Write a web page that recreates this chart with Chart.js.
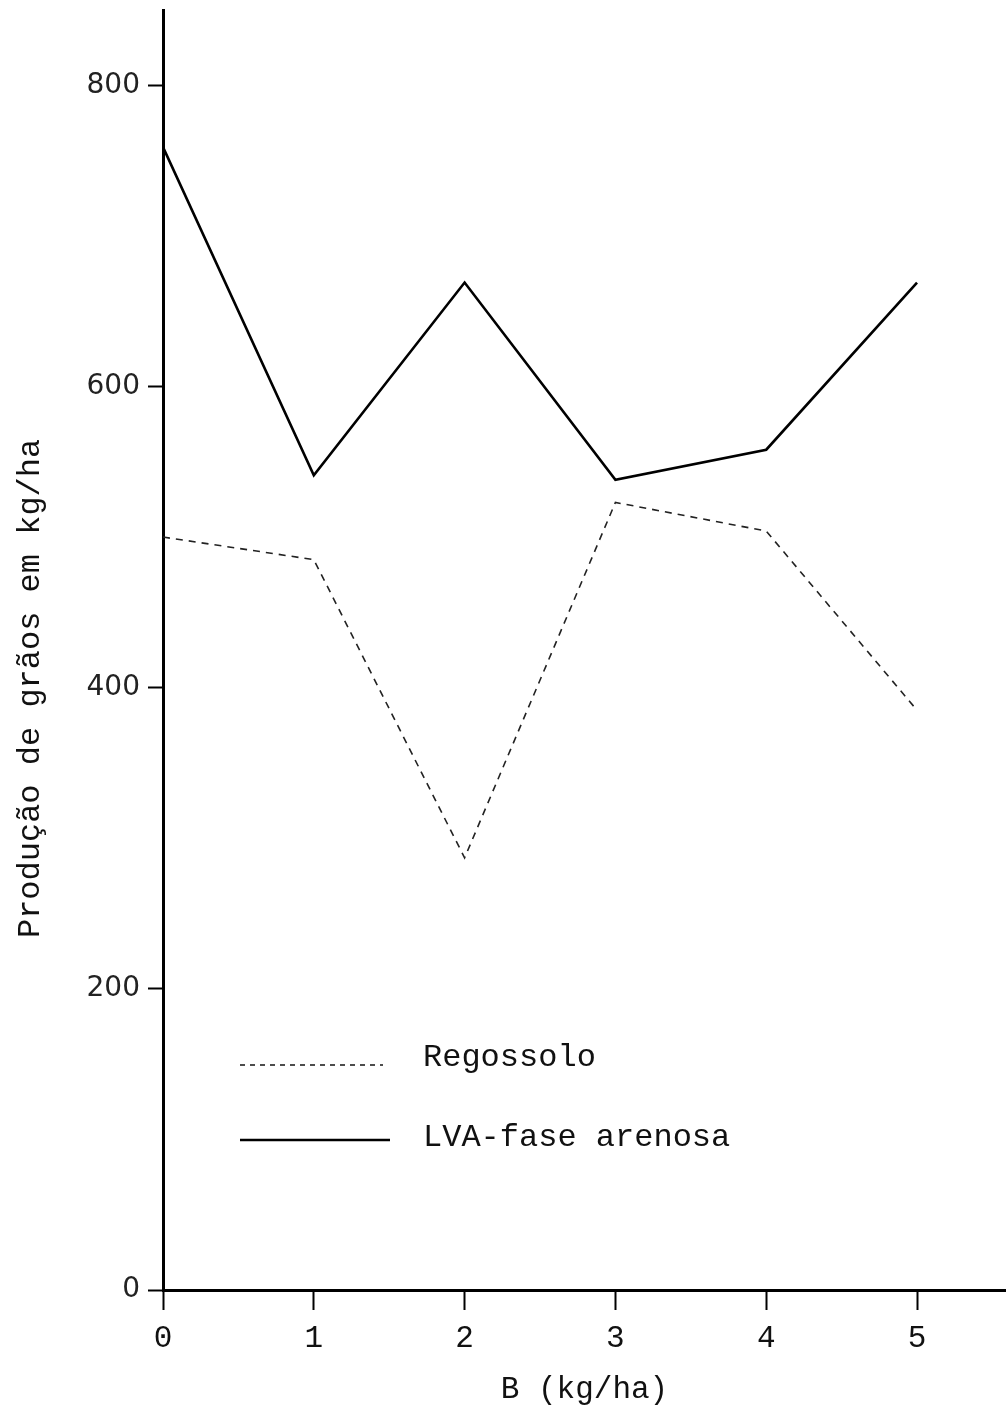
<!DOCTYPE html>
<html><head><meta charset="utf-8">
<script src="https://cdn.jsdelivr.net/npm/chart.js@4"></script>
<style>html,body{margin:0;padding:0;background:#fff}#wrap{width:1006px;height:1409px;position:relative}</style>
</head><body><div id="wrap"><canvas id="c" width="1006" height="1409"></canvas></div>
<script>
const doses = [0, 1, 2, 3, 4, 5];
const regossolo = [500, 485, 287, 523, 504, 385];
const lvaFaseArenosa = [759, 541, 669, 538, 558, 669];
const yTicks = [0, 200, 400, 600, 800];
const xTicks = [0, 1, 2, 3, 4, 5];
const seriesNames = ['Regossolo', 'LVA-fase arenosa'];
const xTitle = 'B (kg/ha)';
const yTitle = 'Produção de grãos em kg/ha';

const MONO = '"Liberation Mono", "DejaVu Sans Mono", monospace';

const legendPlugin = {
  id: 'inlineLegend',
  afterDraw(chart) {
    const ctx = chart.ctx;
    const rows = [
      { ds: 0, x0: 240, x1: 383, ly: 1065, ty: 1058 },
      { ds: 1, x0: 240, x1: 390, ly: 1140, ty: 1138 }
    ];
    ctx.save();
    rows.forEach(r => {
      const d = chart.data.datasets[r.ds];
      ctx.beginPath();
      ctx.strokeStyle = d.borderColor;
      ctx.lineWidth = d.borderWidth;
      ctx.setLineDash(r.ds === 0 ? [5, 5] : []);
      ctx.moveTo(r.x0, r.ly);
      ctx.lineTo(r.x1, r.ly);
      ctx.stroke();
      ctx.setLineDash([]);
      ctx.fillStyle = '#111';
      ctx.font = '32px ' + MONO;
      ctx.textBaseline = 'middle';
      ctx.textAlign = 'left';
      ctx.fillText(d.label, 423, r.ty);
    });
    ctx.restore();
  }
};

new Chart(document.getElementById('c'), {
  type: 'line',
  data: {
    datasets: [
      {
        label: seriesNames[0],
        data: doses.map((x, i) => ({ x, y: regossolo[i] })),
        borderColor: '#222',
        borderWidth: 1.6,
        borderDash: [7, 6],
        pointRadius: 0,
        tension: 0,
        fill: false
      },
      {
        label: seriesNames[1],
        data: doses.map((x, i) => ({ x, y: lvaFaseArenosa[i] })),
        borderColor: '#000',
        borderWidth: 2.6,
        pointRadius: 0,
        tension: 0,
        fill: false
      }
    ]
  },
  options: {
    responsive: false,
    devicePixelRatio: 1,
    animation: false,
    layout: { padding: { top: 10, right: 0, left: 0, bottom: 0 } },
    plugins: { legend: { display: false }, tooltip: { enabled: false } },
    scales: {
      x: {
        type: 'linear',
        min: 0,
        max: 5.59,
        afterBuildTicks: s => { s.ticks = xTicks.map(v => ({ value: v })); },
        afterFit: s => { s.height = 119; },
        border: { display: true, color: '#000', width: 3 },
        grid: { drawOnChartArea: false, drawTicks: true, tickLength: 20, color: '#000', tickWidth: 2 },
        ticks: { color: '#111', font: { family: MONO, size: 31 }, padding: 10, maxRotation: 0 },
        title: { display: true, text: xTitle, color: '#111', font: { family: MONO, size: 31 }, padding: { top: 0, bottom: 1 } }
      },
      y: {
        type: 'linear',
        min: 0,
        max: 850,
        afterBuildTicks: s => { s.ticks = yTicks.map(v => ({ value: v })); },
        afterFit: s => { s.width = 163; s.paddingTop = 0; },
        border: { display: true, color: '#000', width: 3 },
        grid: { drawOnChartArea: false, drawTicks: true, tickLength: 15, color: '#000', tickWidth: 2 },
        ticks: { color: '#222', font: { family: '"DejaVu Sans", sans-serif', size: 28, lineHeight: 0.01 }, padding: 8 },
        title: { display: true, text: yTitle + '    ', color: '#111', font: { family: MONO, size: 32 }, padding: { top: 11, bottom: 0 } }
      }
    }
  },
  plugins: [legendPlugin]
});
</script>
</body></html>
